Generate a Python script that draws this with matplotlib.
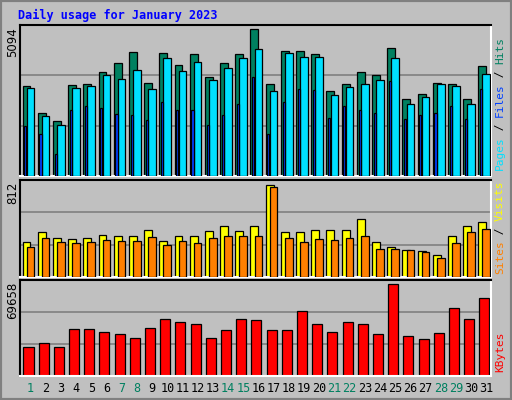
import matplotlib
matplotlib.use("Agg")
import matplotlib.pyplot as plt
import numpy as np

days = list(range(1, 32))
hits = [3104,2193,1923,3138,3205,3610,3914,4285,3239,4251,3846,4217,3441,3914,4217,5094,3171,4318,4318,4217,2935,3205,3610,3509,4420,2665,2834,3239,3205,2665,3812]
files = [3036,2092,1754,3036,3104,3509,3374,3677,3003,4082,3644,3947,3340,3745,4082,4386,2935,4251,4116,4116,2800,3070,3205,3340,4082,2497,2733,3171,3104,2497,3543]
pages = [1721,1451,776,2294,2429,2362,2159,2126,1957,2564,2294,2294,1754,2126,2497,3441,1451,2564,3003,2969,2024,2429,2294,2193,3307,1991,2126,2193,2429,1991,3003]
visits = [312,393,348,339,348,375,366,366,419,321,366,366,410,446,410,446,812,401,401,419,419,419,508,312,268,241,232,196,366,446,482]
sites = [268,348,312,303,312,330,321,321,357,285,321,303,348,366,366,366,794,348,312,339,330,348,366,250,250,241,223,170,303,393,428]
kbytes = [22000,25165,22000,35456,35456,33081,31498,29123,36247,43372,40997,39414,29123,34664,43372,42580,34664,34664,48913,39414,33081,40997,39414,31498,69658,29914,28331,32289,51288,43372,59204]
weekend = [1,7,8,14,15,21,22,28,29]

W, H = 512, 400
BG = "#C0C0C0"
fig = plt.figure(figsize=(W/100, H/100), dpi=100, facecolor=BG)

def ax_at(x0, y0, x1, y1):
    a = fig.add_axes([x0/W, 1-y1/H, (x1-x0)/W, (y1-y0)/H])
    a.set_facecolor(BG)
    a.set_xlim(0.5, 31.5)
    a.set_xticks([]); a.set_yticks([])
    for s in ["top", "left"]:
        a.spines[s].set_color("black"); a.spines[s].set_linewidth(1.5)
    for s in ["bottom", "right"]:
        a.spines[s].set_color("white"); a.spines[s].set_linewidth(1.5)
    return a

x = np.array(days, dtype=float)
ek = dict(edgecolor="black", linewidth=0.9, align="edge")

a1 = ax_at(20, 25, 491, 176)
top1 = max(hits) * 151/147
a1.set_ylim(0, top1)
for f in (1/3, 2/3):
    a1.axhline(top1*f, color="#808080", lw=1.2, zorder=0)
a1.bar(x-0.33, hits, width=0.52, color="#008060", zorder=2, **ek)
a1.bar(x-0.06, files, width=0.5, color="#00E0FF", zorder=3, **ek)
a1.bar(x-0.22, pages, width=0.14, color="#0040FF", zorder=4, **ek)

a2 = ax_at(20, 180, 491, 277)
top2 = max(visits) * 97/92
a2.set_ylim(0, top2)
for f in (1/3, 2/3):
    a2.axhline(top2*f, color="#808080", lw=1.2, zorder=0)
a2.bar(x-0.33, visits, width=0.52, color="#FFFF00", zorder=2, **ek)
a2.bar(x-0.06, sites, width=0.5, color="#FF8000", zorder=3, **ek)

a3 = ax_at(20, 280, 491, 376)
top3 = max(kbytes) * 96/92
a3.set_ylim(0, top3)
for f in (1/3, 2/3):
    a3.axhline(top3*f, color="#808080", lw=1.2, zorder=0)
a3.bar(x-0.27, kbytes, width=0.66, color="#FF0000", zorder=2, **ek)

for d in days:
    a3.text(d + 0.2, -0.13, str(d), transform=a3.get_xaxis_transform(), ha="center", va="center",
            fontsize=8.5, family="DejaVu Sans Mono", color="#008060" if d in weekend else "black")

fig.text(18/W, 1-15/H, "Daily usage for January 2023", color="#0000FF", fontweight="bold",
         family="DejaVu Sans Mono", fontsize=8.5, va="center", ha="left")

def ylab(ytop, s):
    fig.text(13/W, 1-ytop/H, s, rotation=90, ha="center", va="top", fontsize=8.5, family="DejaVu Sans")
ylab(27, str(max(hits)))
ylab(182, str(max(visits)))
ylab(282, str(max(kbytes)))

def rlab(ybot, parts):
    y = ybot
    for s, c in parts:
        fig.text(500/W, 1-y/H, s, rotation=90, ha="center", va="bottom", fontsize=8,
                 family="DejaVu Sans Mono", color=c)
        y -= 6.6*len(s)
rlab(170, [("Pages", "#00E0FF"), (" / ", "black"), ("Files", "#0040FF"), (" / ", "black"), ("Hits", "#008060")])
rlab(274, [("Sites", "#FF8000"), (" / ", "black"), ("Visits", "#FFFF00")])
rlab(372, [("KBytes", "#FF0000")])

# frame
from matplotlib.patches import Rectangle
fig.patches.append(Rectangle((0, 0), 1, 1, transform=fig.transFigure, fill=False, edgecolor="#808080", lw=3))
fig.savefig("out.png", dpi=100, facecolor=BG)
